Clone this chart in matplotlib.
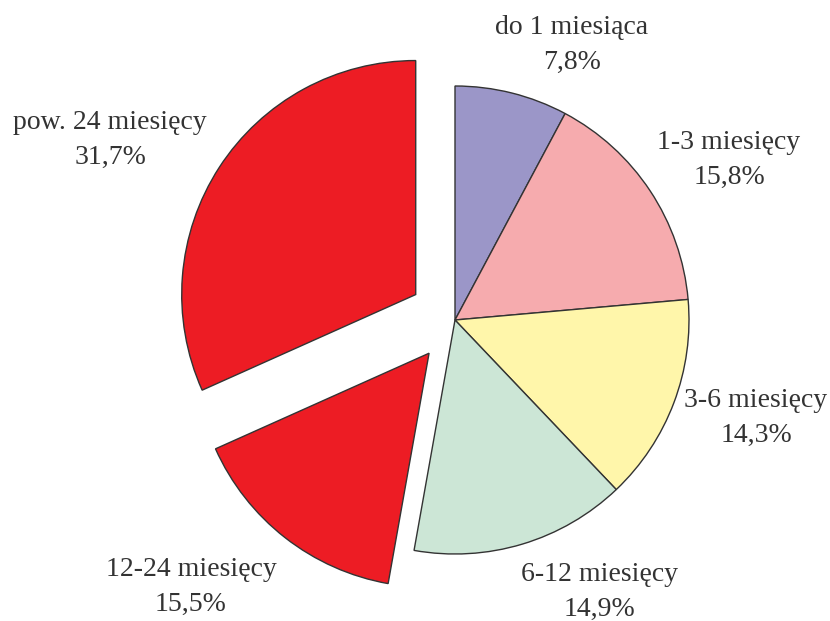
import matplotlib.pyplot as plt

categories = ["do 1 miesiąca", "1-3 miesięcy", "3-6 miesięcy", "6-12 miesięcy",
              "12-24 miesięcy", "pow. 24 miesięcy"]
shares = [7.8, 15.8, 14.3, 14.9, 15.5, 31.7]
colors = ["#9B96C8", "#F6ABAE", "#FFF6AA", "#CCE6D6", "#ED1C24", "#ED1C24"]
explode_frac = [0, 0, 0, 0, 0.18, 0.2]

# label centres in pixel space (x, y from top)
label_pos = [(572, 45), (729, 160), (756, 418), (599, 592), (191, 587), (110, 140)]

plt.rcParams['font.family'] = ['Liberation Serif', 'DejaVu Serif']

R = 234
fig = plt.figure(figsize=(8.3, 6.21), dpi=100)
ax = fig.add_axes([0, 0, 1, 1])
ax.set_xlim(0, 830)
ax.set_ylim(0, 621)
ax.set_aspect('equal')
ax.axis('off')

ax.pie(shares, colors=colors, explode=[e * R for e in explode_frac],
       startangle=90, counterclock=False,
       center=(455, 621 - 320), radius=R,
       wedgeprops=dict(edgecolor='#333333', linewidth=1.0))

for name, val, (x, y) in zip(categories, shares, label_pos):
    txt = name + "\n" + f"{val:.1f}".replace(".", ",") + "%"
    ax.text(x, 621 - y, txt, ha='center', va='center', fontsize=20,
            color='#333333', linespacing=1.55)

ax.set_xlim(0, 830)
ax.set_ylim(0, 621)
fig.savefig("out.png", dpi=100)
